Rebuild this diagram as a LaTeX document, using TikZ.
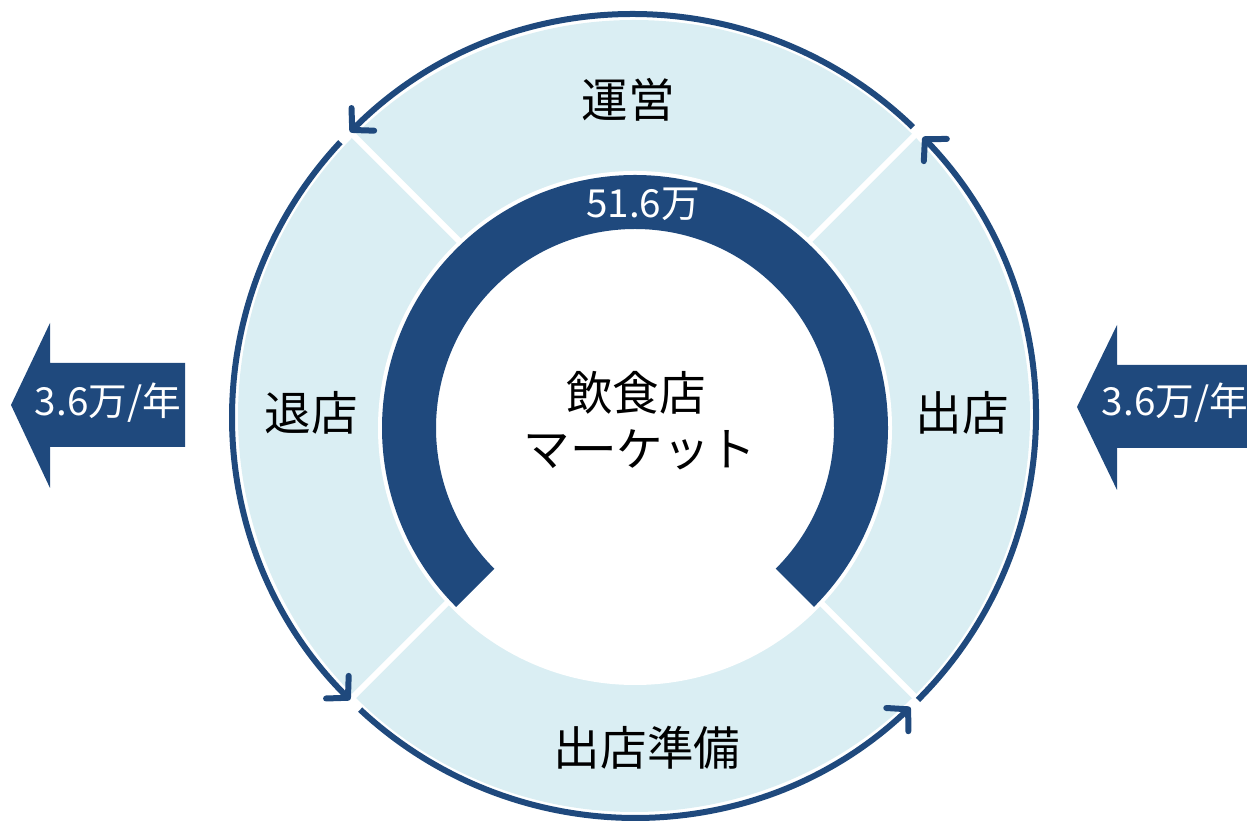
\documentclass[tikz,border=0pt]{standalone}
\usepackage{fontspec}
\setmainfont{Noto Sans CJK JP}
\usetikzlibrary{arrows.meta,calc}
\definecolor{ringblue}{HTML}{1F497D}
\definecolor{ringlight}{HTML}{DAEEF3}
\tikzset{
  phase/.style={font=\fontsize{26.5}{30}\selectfont, text=black, inner sep=0pt},
  flow/.style={font=\fontsize{22}{26}\selectfont, text=white, inner sep=0pt},
  cyclearrow/.style={ringblue, line width=6*0.02cm,
    -{Straight Barb[length=3mm,width=6.4mm,round]}},
  sepline/.style={white, line width=6*0.02cm},
}

\begin{document}
\begin{tikzpicture}[x=0.02cm, y=0.02cm]
\useasboundingbox (0,0) rectangle (1247,821);
\coordinate (C) at (634,405);
\coordinate (I) at (635,393);

\fill[ringlight] (C) circle[radius=396];
\foreach \t in {45,135,225,315}
  \draw[sepline] ($(C)+(\t:220)$) -- ($(C)+(\t:400)$);
\fill[white] (I) circle[radius=257];
\fill[ringblue] ($(I)+(-45:253)$) arc[start angle=-45, end angle=225, radius=253]
  -- ($(I)+(225:199)$) arc[start angle=225, end angle=-45, radius=199] -- cycle;

\foreach \a/\b in {-45/44, 46/135, 137/225, 227/313.5}
  \draw[cyclearrow] ($(C)+(\a:401.5)$) arc[start angle=\a, end angle=\b, radius=401.5];

\fill[ringblue] (11,416) -- (50,498) -- (50,458) -- (185,458) -- (185,374)
  -- (50,374) -- (50,333) -- cycle;
\fill[ringblue] (1077,414) -- (1117,496) -- (1117,456) -- (1247,456) -- (1247,373)
  -- (1117,373) -- (1117,331) -- cycle;

\node[phase] (run) at (628,721) {運営};
\node[phase] (open) at (962,408) {出店};
\node[phase] (close) at (311,408) {退店};
\node[phase] (prep) at (647,73) {出店準備};
\node[phase] (mkt) at (636,428) {飲食店};
\node[phase] (mkt2) at (640,371) {マーケット};
\node[flow] (total) at (643,617) {51.6万};
\node[flow] (out) at (108,418) {3.6万/年};
\node[flow] (in) at (1175,418) {3.6万/年};
\end{tikzpicture}
\end{document}
